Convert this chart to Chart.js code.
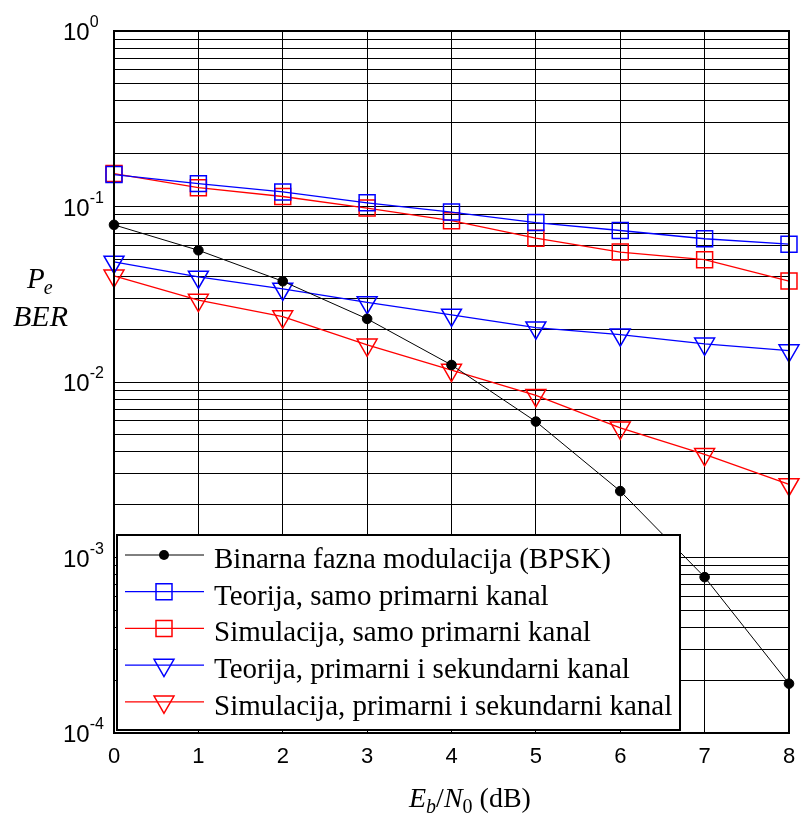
<!DOCTYPE html>
<html>
<head>
<meta charset="utf-8">
<script src="https://cdn.jsdelivr.net/npm/chart.js@4/dist/chart.umd.min.js"></script>
<style>
    html, body { margin: 0; padding: 0; background: #fff; }
</style>
</head>
<body>
<canvas id="myChart" width="802" height="816"></canvas>
<script>
// data
const ebn0 = [0, 1, 2, 3, 4, 5, 6, 7, 8]
const bpskBer = [0.0786, 0.0563, 0.0375, 0.0229, 0.0125, 0.00595, 0.00239, 0.000773, 0.000191]
const teorPrim = [0.152, 0.135, 0.121, 0.105, 0.093, 0.081, 0.073, 0.0655, 0.061]
const simPrim = [0.154, 0.128, 0.114, 0.098, 0.083, 0.066, 0.055, 0.0498, 0.0376]
const teorSek = [0.0483, 0.0397, 0.0339, 0.0284, 0.0241, 0.0204, 0.0186, 0.0165, 0.0151]
const simSek = [0.0403, 0.0293, 0.0236, 0.0163, 0.0117, 0.0084, 0.00548, 0.00387, 0.00261]

const seriesNames = [
    'Binarna fazna modulacija (BPSK)',
    'Teorija, samo primarni kanal',
    'Simulacija, samo primarni kanal',
    'Teorija, primarni i sekundarni kanal',
    'Simulacija, primarni i sekundarni kanal'
]
const xTickLabels = ['0', '1', '2', '3', '4', '5', '6', '7', '8']
const yDecades = [0, -1, -2, -3, -4]
const yMinor = [1, 2, 3, 4, 5, 6, 7, 8, 9]

const BLUE = '#0000ff'
const RED = '#ff0000'
const SANS = '"Liberation Sans", Arial, sans-serif'
const SERIF = '"Liberation Serif", "Times New Roman", serif'

const pts = arr => arr.map((v, i) => ({x: ebn0[i], y: v}))

function marker(ctx, style, color, x, y) {
    ctx.save()
    ctx.strokeStyle = color
    ctx.fillStyle = color
    ctx.lineWidth = 1.5
    ctx.beginPath()
    if (style === 'circle') {
        ctx.arc(x, y, 5, 0, Math.PI * 2)
        ctx.fill()
    } else if (style === 'rect') {
        ctx.rect(x - 8, y - 8, 16, 16)
        ctx.stroke()
    } else {
        const r = 11.5
        ctx.moveTo(x, y + r)
        ctx.lineTo(x - r * 0.866, y - r / 2)
        ctx.lineTo(x + r * 0.866, y - r / 2)
        ctx.closePath()
        ctx.stroke()
    }
    ctx.restore()
}

// labels, frame and legend drawn on top of the plot
const decor = {
    id: 'decor',
    afterDraw(chart) {
        const ctx = chart.ctx
        const a = chart.chartArea
        const xs = chart.scales.x
        const ys = chart.scales.y
        ctx.save()
        // frame
        ctx.strokeStyle = '#000'
        ctx.lineWidth = 2
        ctx.strokeRect(a.left, a.top, a.right - a.left, a.bottom - a.top)

        // x tick labels
        ctx.fillStyle = '#000'
        ctx.font = '22px ' + SANS
        ctx.textAlign = 'center'
        ctx.textBaseline = 'alphabetic'
        xTickLabels.forEach((t, i) => {
            ctx.fillText(t, xs.getPixelForValue(ebn0[i]), a.bottom + 30)
        })

        // y tick labels 10^n
        ctx.textAlign = 'left'
        yDecades.forEach(d => {
            const py = ys.getPixelForValue(Math.pow(10, d))
            ctx.font = '24px ' + SANS
            ctx.fillText('10', 63, py + 9)
            const w = ctx.measureText('10').width
            ctx.font = '16px ' + SANS
            ctx.fillText(String(d), 63 + w, py - 4)
        })

        // y title
        ctx.font = 'italic 29px ' + SERIF
        ctx.fillText('P', 27, 288)
        let w = ctx.measureText('P').width
        ctx.font = 'italic 20px ' + SERIF
        ctx.fillText('e', 27 + w - 1, 294)
        ctx.font = 'italic 30px ' + SERIF
        ctx.fillText('BER', 13, 326)

        // x title
        let cx = 409
        const by = 807
        const part = (txt, font, dy) => {
            ctx.font = font
            ctx.fillText(txt, cx, by + dy)
            cx += ctx.measureText(txt).width
        }
        part('E', 'italic 28px ' + SERIF, 0)
        part('b', 'italic 20px ' + SERIF, 6)
        part('/', '28px ' + SERIF, 0)
        part('N', 'italic 28px ' + SERIF, 0)
        part('0', '20px ' + SERIF, 6)
        part(' (dB)', '28px ' + SERIF, 0)

        // legend box
        const lx = 117, ly = 535, lw = 563, lh = 195
        ctx.fillStyle = '#fff'
        ctx.fillRect(lx, ly, lw, lh)
        ctx.strokeStyle = '#000'
        ctx.lineWidth = 2
        ctx.strokeRect(lx, ly, lw, lh)
        chart.data.datasets.forEach((ds, i) => {
            const ry = 555 + i * 36.7
            ctx.strokeStyle = ds.borderColor
            ctx.lineWidth = ds.borderWidth
            ctx.beginPath()
            ctx.moveTo(125, ry)
            ctx.lineTo(204, ry)
            ctx.stroke()
            marker(ctx, ds.pointStyle, ds.borderColor, 164, ry)
            ctx.fillStyle = '#000'
            ctx.font = '29px ' + SERIF
            ctx.textAlign = 'left'
            ctx.fillText(ds.label, 214, ry + 13)
        })
        ctx.restore()
    }
}

const chartEl = document.getElementById('myChart')
const berChart = new Chart(chartEl, {
    type: 'line',
    data: {
        datasets: [
            {
                label: seriesNames[0], data: pts(bpskBer),
                borderColor: '#000', borderWidth: 1,
                pointStyle: 'circle', pointRadius: 4.8,
                pointBackgroundColor: '#000', pointBorderColor: '#000'
            },
            {
                label: seriesNames[1], data: pts(teorPrim),
                borderColor: BLUE, borderWidth: 1.3,
                pointStyle: 'rect', pointRadius: 11.3, pointBorderWidth: 1.5,
                pointBackgroundColor: 'rgba(0,0,0,0)', pointBorderColor: BLUE
            },
            {
                label: seriesNames[2], data: pts(simPrim),
                borderColor: RED, borderWidth: 1.3,
                pointStyle: 'rect', pointRadius: 11.3, pointBorderWidth: 1.5,
                pointBackgroundColor: 'rgba(0,0,0,0)', pointBorderColor: RED
            },
            {
                label: seriesNames[3], data: pts(teorSek),
                borderColor: BLUE, borderWidth: 1.3,
                pointStyle: 'triangle', pointRotation: 180, pointRadius: 11.5, pointBorderWidth: 1.5,
                pointBackgroundColor: 'rgba(0,0,0,0)', pointBorderColor: BLUE
            },
            {
                label: seriesNames[4], data: pts(simSek),
                borderColor: RED, borderWidth: 1.3,
                pointStyle: 'triangle', pointRotation: 180, pointRadius: 11.5, pointBorderWidth: 1.5,
                pointBackgroundColor: 'rgba(0,0,0,0)', pointBorderColor: RED
            }
        ]
    },
    options: {
        responsive: false,
        animation: false,
        layout: { padding: { left: 114, right: 9, top: 31, bottom: 83 } },
        datasets: { line: { clip: false, tension: 0, fill: false } },
        plugins: { legend: { display: false }, tooltip: { enabled: false } },
        scales: {
            x: {
                type: 'linear', min: 0, max: 8,
                ticks: { display: false, stepSize: 1 },
                grid: { color: '#000', lineWidth: 1, drawTicks: false },
                border: { display: false }
            },
            y: {
                type: 'logarithmic', min: 1e-4, max: 1,
                ticks: { display: false },
                grid: { color: '#000', lineWidth: 1, drawTicks: false },
                border: { display: false },
                afterBuildTicks: scale => {
                    const list = []
                    yDecades.forEach(d => {
                        yMinor.forEach(m => {
                            const v = m * Math.pow(10, d)
                            if (v >= 1e-4 && v <= 1) list.push({value: v})
                        })
                    })
                    scale.ticks = list
                }
            }
        }
    },
    plugins: [decor]
})
</script>
</body>
</html>
